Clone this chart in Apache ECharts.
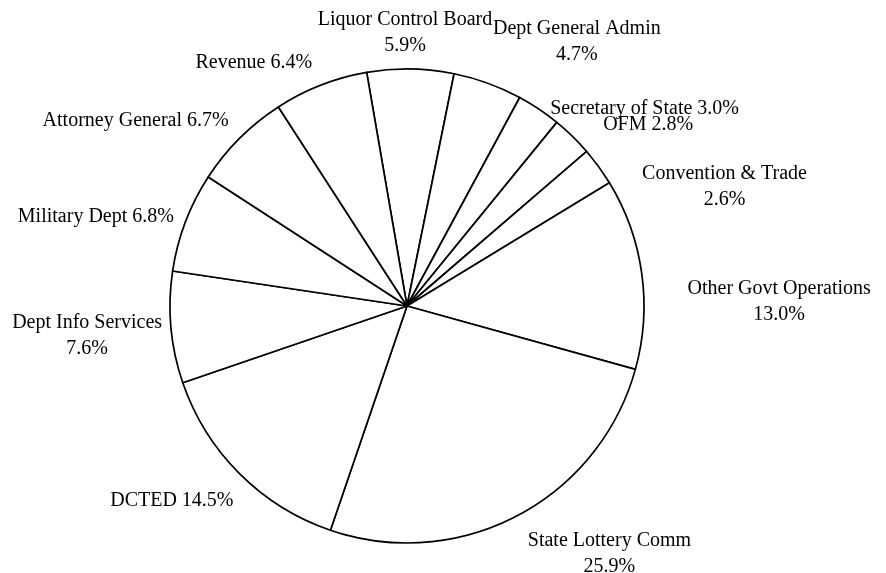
<!DOCTYPE html>
<html>
<head>
<meta charset="utf-8">
<script src="https://cdn.jsdelivr.net/npm/echarts@6/dist/echarts.min.js"></script>
<style>
  html, body { margin: 0; padding: 0; background: #fff; }
  #chart { width: 886px; height: 573px; }
</style>
</head>
<body>
<div id="chart"></div>
<script>
// slices, clockwise starting just left of 12 o'clock
const agencies = [
  'Liquor Control Board', 'Dept General Admin', 'Secretary of State', 'OFM',
  'Convention & Trade', 'Other Govt Operations', 'State Lottery Comm', 'DCTED',
  'Dept Info Services', 'Military Dept', 'Attorney General', 'Revenue'
]
const shares = [5.9, 4.7, 3.0, 2.8, 2.6, 13.0, 25.9, 14.5, 7.6, 6.8, 6.7, 6.4]
// labels that put the percent on a second line
const twoLine = ['Liquor Control Board', 'Dept General Admin', 'Convention & Trade',
  'Other Govt Operations', 'State Lottery Comm', 'Dept Info Services']

// small hand nudges for the label placement (px)
const labelNudge = [
  [-93, -12], [-3, -19], [-2, 20], [14, 6], [24, 34], [22, 32],
  [-1, 17], [11, 10], [15, 6], [11, 3], [6, 0], [0, 0]
]

let myChart = echarts.init(document.getElementById('chart'))

myChart.setOption({
  animation: false,
  backgroundColor: '#fff',
  series: [
    {
      type: 'pie',
      center: [407, 306],
      radius: 237,
      startAngle: 99.8,
      clockwise: true,
      avoidLabelOverlap: false,
      silent: true,
      data: agencies.map((n, i) => ({ name: n, value: shares[i] })),
      itemStyle: {
        color: '#fff',
        borderColor: '#000',
        borderWidth: 1.7
      },
      label: {
        show: true,
        position: 'outside',
        distanceToLabelLine: 0,
        color: '#000',
        fontFamily: 'Liberation Serif',
        fontSize: 20,
        lineHeight: 26,
        formatter: (p) => {
          let pct = p.value.toFixed(1) + '%'
          if (twoLine.includes(p.name)) {
            return '{t|' + p.name + '}\n{t|' + pct + '}'
          }
          return '{t|' + p.name + ' ' + pct + '}'
        },
        rich: {
          t: {
            align: 'center',
            color: '#000',
            fontFamily: 'Liberation Serif',
            fontSize: 20,
            lineHeight: 26
          }
        }
      },
      labelLine: {
        show: false,
        length: 24,
        length2: 0
      },
      labelLayout: (params) => {
        let n = labelNudge[params.dataIndex]
        return { dx: n[0], dy: n[1] }
      },
      emphasis: { disabled: true }
    }
  ]
})
</script>
</body>
</html>
